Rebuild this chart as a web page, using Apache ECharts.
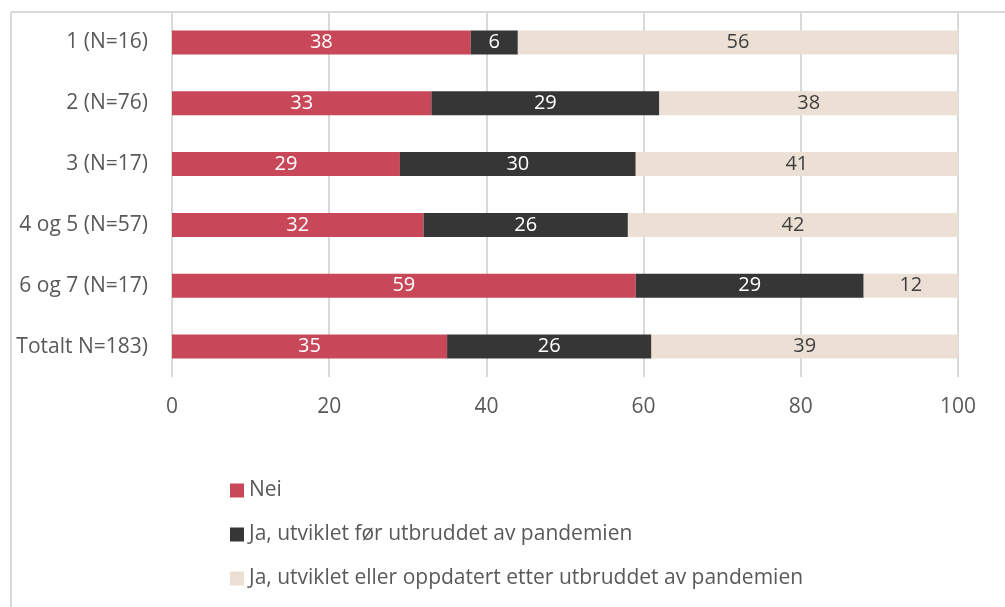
<!DOCTYPE html>
<html>
<head>
<meta charset="utf-8">
<script src="https://cdn.jsdelivr.net/npm/echarts@6/dist/echarts.min.js"></script>
<style>
  html, body { margin: 0; padding: 0; background: #fff; }
  #chart { width: 1005px; height: 607px; }
</style>
</head>
<body>
<div id="chart"></div>
<script>
// Data (percent)
const categories = ["1 (N=16)", "2 (N=76)", "3 (N=17)", "4 og 5 (N=57)", "6 og 7 (N=17)", "Totalt N=183)"];
const neiValues = [38, 33, 29, 32, 59, 35];
const jaForValues = [6, 29, 30, 26, 29, 26];
const jaEtterValues = [56, 38, 41, 42, 12, 39];
const seriesNames = [
  "Nei",
  "Ja, utviklet før utbruddet av pandemien",
  "Ja, utviklet eller oppdatert etter utbruddet av pandemien"
];
const xTicks = { min: 0, max: 100, interval: 20 };

const font = "'Open Sans', sans-serif";
const fontSize = 21;
const colors = ["#C8485A", "#363636", "#EBE0D3"];
const labelColors = ["#ffffff", "#ffffff", "#404040"];

const makeSeries = (name, values, i) => ({
  name,
  type: "bar",
  stack: "total",
  barWidth: 24,
  data: values,
  itemStyle: { color: colors[i] },
  label: {
    show: true,
    position: "inside",
    color: labelColors[i],
    fontFamily: font,
    fontSize: 20,
  },
});

const chart = echarts.init(document.getElementById("chart"));
chart.setOption({
  animation: false,
  textStyle: { fontFamily: font },
  grid: { left: 172, right: 47, top: 12, bottom: 230, containLabel: false },
  xAxis: {
    type: "value",
    min: xTicks.min,
    max: xTicks.max,
    interval: xTicks.interval,
    axisLine: { show: false },
    axisTick: { show: false },
    splitLine: { lineStyle: { color: "#d9d9d9", width: 2 } },
    axisLabel: { color: "#595959", fontSize, margin: 20, fontFamily: font },
  },
  yAxis: {
    type: "category",
    inverse: true,
    data: categories,
    axisLine: { show: false },
    axisTick: { show: false },
    axisLabel: { color: "#595959", fontSize, margin: 24, fontFamily: font },
  },
  legend: {
    orient: "vertical",
    left: 225,
    top: 475,
    itemWidth: 14,
    itemHeight: 14,
    itemGap: 23,
    itemTextGap: 5,
    icon: "rect",
    textStyle: { color: "#595959", fontSize, fontFamily: font },
    data: seriesNames,
  },
  graphic: [
    { type: "line", shape: { x1: 11, y1: 12, x2: 1005, y2: 12 }, style: { stroke: "#d9d9d9", lineWidth: 2 } },
    { type: "line", shape: { x1: 11, y1: 12, x2: 11, y2: 607 }, style: { stroke: "#d9d9d9", lineWidth: 2 } },
  ],
  series: [
    makeSeries(seriesNames[0], neiValues, 0),
    makeSeries(seriesNames[1], jaForValues, 1),
    makeSeries(seriesNames[2], jaEtterValues, 2),
  ],
});
</script>
</body>
</html>
